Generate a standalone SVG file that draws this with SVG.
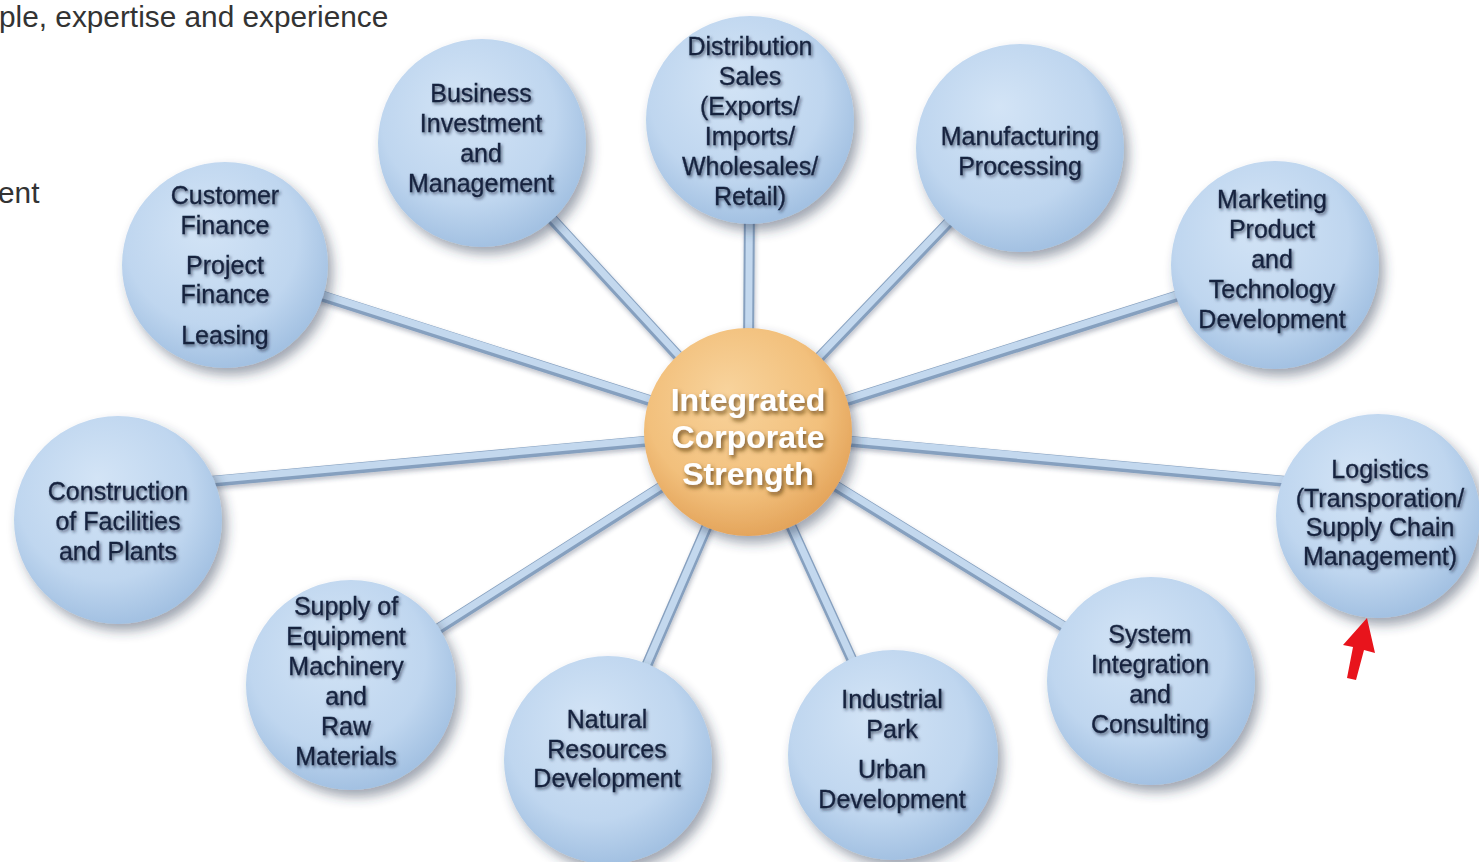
<svg xmlns="http://www.w3.org/2000/svg" width="1479" height="862" viewBox="0 0 1479 862">
<defs>
<radialGradient id="gBlue" cx="0.45" cy="0.4" r="0.6" fx="0.4" fy="0.3">
<stop offset="0" stop-color="#d3e4f6"/>
<stop offset="0.7" stop-color="#bfd6ef"/>
<stop offset="1" stop-color="#a3c1e2"/>
</radialGradient>
<radialGradient id="gOrange" cx="0.45" cy="0.4" r="0.6" fx="0.4" fy="0.3">
<stop offset="0" stop-color="#f8d39c"/>
<stop offset="0.7" stop-color="#f2c07c"/>
<stop offset="1" stop-color="#e4a55c"/>
</radialGradient>
<filter id="shadow" x="-20%" y="-20%" width="150%" height="150%">
<feDropShadow dx="5" dy="7" stdDeviation="6" flood-color="#2a3a55" flood-opacity="0.45"/>
</filter>
<filter id="tshadow" x="-10%" y="-30%" width="130%" height="180%">
<feDropShadow dx="1.5" dy="2" stdDeviation="1.6" flood-color="#1a2440" flood-opacity="0.65"/>
</filter>
<filter id="wshadow" x="-10%" y="-30%" width="130%" height="180%">
<feDropShadow dx="2" dy="3" stdDeviation="2" flood-color="#5a3a10" flood-opacity="0.8"/>
</filter>
<filter id="lshadow" x="-5%" y="-5%" width="110%" height="110%">
<feDropShadow dx="1" dy="3" stdDeviation="2" flood-color="#2a3a55" flood-opacity="0.3"/>
</filter>
</defs>
<style>
.node circle { fill: url(#gBlue); filter: url(#shadow); }
.node text { font-family: "Liberation Sans", Arial, sans-serif; font-size: 25px; fill: #16243f; stroke: #16243f; stroke-width: 0.3; text-anchor: middle; filter: url(#tshadow); }
.hub circle { fill: url(#gOrange); filter: url(#shadow); }
.hub text { font-family: "Liberation Sans", Arial, sans-serif; font-size: 32px; font-weight: bold; fill: #ffffff; text-anchor: middle; filter: url(#wshadow); }
.outer { stroke: #86a0bf; stroke-width: 11; stroke-linecap: round; fill: none; filter: url(#lshadow); }
.inner { stroke: #c3d8ee; stroke-width: 7; stroke-linecap: round; fill: none; }
.page { font-family: "Liberation Sans", Arial, sans-serif; font-size: 29.8px; fill: #333333; }
</style>
<rect width="1479" height="862" fill="#ffffff"/>
<text class="page" x="-1" y="27">ple, expertise and experience</text>
<text class="page" x="-2" y="203">ent</text>

<g id="connectors">
<g class="outer">
<line x1="748" y1="432" x2="225" y2="265"/>
<line x1="748" y1="432" x2="482" y2="143"/>
<line x1="748" y1="432" x2="750" y2="120"/>
<line x1="748" y1="432" x2="1020" y2="148"/>
<line x1="748" y1="432" x2="1275" y2="265"/>
<line x1="748" y1="432" x2="1378" y2="490"/>
<line x1="748" y1="432" x2="1150" y2="680"/>
<line x1="748" y1="432" x2="893" y2="750"/>
<line x1="748" y1="432" x2="608" y2="755"/>
<line x1="748" y1="432" x2="350" y2="685"/>
<line x1="748" y1="432" x2="118" y2="490"/>
</g>
<g class="inner" transform="translate(0,-1.5)">
<line x1="748" y1="432" x2="225" y2="265"/>
<line x1="748" y1="432" x2="482" y2="143"/>
<line x1="748" y1="432" x2="750" y2="120"/>
<line x1="748" y1="432" x2="1020" y2="148"/>
<line x1="748" y1="432" x2="1275" y2="265"/>
<line x1="748" y1="432" x2="1378" y2="490"/>
<line x1="748" y1="432" x2="1150" y2="680"/>
<line x1="748" y1="432" x2="893" y2="750"/>
<line x1="748" y1="432" x2="608" y2="755"/>
<line x1="748" y1="432" x2="350" y2="685"/>
<line x1="748" y1="432" x2="118" y2="490"/>
</g>
</g>

<g id="n-finance" class="node">
<circle cx="225" cy="265" r="103"/>
<text x="225" y="204">Customer</text>
<text x="225" y="234">Finance</text>
<text x="225" y="274">Project</text>
<text x="225" y="303">Finance</text>
<text x="225" y="344">Leasing</text>
</g>
<g id="n-business" class="node">
<circle cx="482" cy="143" r="104"/>
<text x="481" y="102">Business</text>
<text x="481" y="132">Investment</text>
<text x="481" y="162">and</text>
<text x="481" y="192">Management</text>
</g>
<g id="n-distribution" class="node">
<circle cx="750" cy="120" r="104"/>
<text x="750" y="55">Distribution</text>
<text x="750" y="85">Sales</text>
<text x="750" y="115">(Exports/</text>
<text x="750" y="145">Imports/</text>
<text x="750" y="175">Wholesales/</text>
<text x="750" y="205">Retail)</text>
</g>
<g id="n-manufacturing" class="node">
<circle cx="1020" cy="148" r="104"/>
<text x="1020" y="145">Manufacturing</text>
<text x="1020" y="175">Processing</text>
</g>
<g id="n-marketing" class="node">
<circle cx="1275" cy="265" r="104"/>
<text x="1272" y="208">Marketing</text>
<text x="1272" y="238">Product</text>
<text x="1272" y="268">and</text>
<text x="1272" y="298">Technology</text>
<text x="1272" y="328">Development</text>
</g>
<g id="n-logistics" class="node">
<circle cx="1378" cy="516" r="102"/>
<text x="1380" y="478">Logistics</text>
<text x="1380" y="507">(Transporation/</text>
<text x="1380" y="536">Supply Chain</text>
<text x="1380" y="565">Management)</text>
</g>
<g id="n-system" class="node">
<circle cx="1151" cy="681" r="104"/>
<text x="1150" y="643">System</text>
<text x="1150" y="673">Integration</text>
<text x="1150" y="703">and</text>
<text x="1150" y="733">Consulting</text>
</g>
<g id="n-industrial" class="node">
<circle cx="893" cy="755" r="105"/>
<text x="892" y="708">Industrial</text>
<text x="892" y="738">Park</text>
<text x="892" y="778">Urban</text>
<text x="892" y="808">Development</text>
</g>
<g id="n-natural" class="node">
<circle cx="608" cy="760" r="104"/>
<text x="607" y="728">Natural</text>
<text x="607" y="758">Resources</text>
<text x="607" y="787">Development</text>
</g>
<g id="n-supply" class="node">
<circle cx="351" cy="685" r="105"/>
<text x="346" y="615">Supply of</text>
<text x="346" y="645">Equipment</text>
<text x="346" y="675">Machinery</text>
<text x="346" y="705">and</text>
<text x="346" y="735">Raw</text>
<text x="346" y="765">Materials</text>
</g>
<g id="n-construction" class="node">
<circle cx="118" cy="520" r="104"/>
<text x="118" y="500">Construction</text>
<text x="118" y="530">of Facilities</text>
<text x="118" y="560">and Plants</text>
</g>

<g id="hub" class="hub">
<circle cx="748" cy="432" r="104"/>
<text x="748" y="411">Integrated</text>
<text x="748" y="448">Corporate</text>
<text x="748" y="485">Strength</text>
</g>

<g id="red-arrow">
<polygon points="1367,618 1375,653 1364,650 1356,680 1347,678 1353,647 1343,645" fill="#e8141c"/>
</g>
</svg>
